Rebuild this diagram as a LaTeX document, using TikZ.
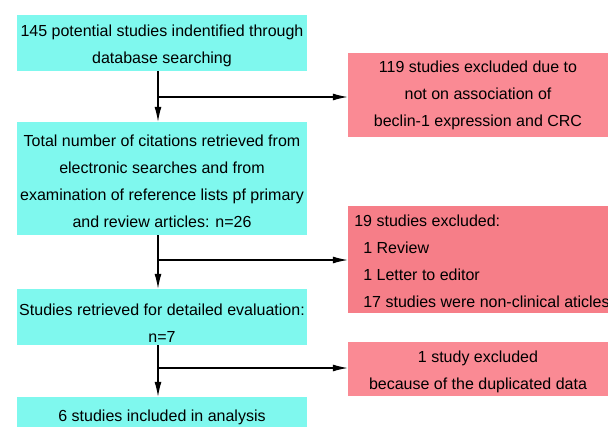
\documentclass[tikz,border=0pt]{standalone}
\usepackage{fontspec}
\setmainfont{Liberation Sans}
\usetikzlibrary{arrows.meta}
\definecolor{boxcyan}{RGB}{127,248,238}
\definecolor{boxpink}{RGB}{250,138,148}
\definecolor{boxrose}{RGB}{246,126,136}
\newcommand{\lift}[1]{\rule{0pt}{#1}}
\tikzset{
	stagebox/.style={fill=boxcyan, inner sep=0pt, minimum width=290pt, align=center, font=\fontsize{16}{27}\selectfont},
	dropbox/.style={fill=boxpink, inner sep=0pt, minimum width=260pt, align=center, font=\fontsize{16}{27}\selectfont},
	flow/.style={-{Latex[length=15pt,width=7pt]}, line width=1.2pt}
}
\begin{document}
\begin{tikzpicture}[x=1pt,y=-1pt]
	\useasboundingbox (0,0) rectangle (608,426);
	\node [stagebox, minimum height=56pt] (found) at (162,43) {\lift{18pt}145 potential studies indentified through\\database searching};
	\node [stagebox, minimum height=113pt] (cited) at (162,178.5) {\lift{18pt}Total number of citations retrieved from\\electronic searches and from\\examination of reference lists pf primary\\and review articles: n=26};
	\node [stagebox, minimum height=56pt] (eval) at (162,317) {\lift{23.5pt}Studies retrieved for detailed evaluation:\\n=7};
	\node [stagebox, minimum height=40pt] (incl) at (162,417) {6 studies included in analysis};
	\node [dropbox, minimum height=84pt] (excla) at (478,95) {119 studies excluded due to\\not on association of\\beclin-1 expression and CRC};
	\node [dropbox, fill=boxrose, minimum width=268pt, minimum height=107pt, align=left] (exclb) at (482,259.5) {\lift{15.5pt}19 studies excluded:\\\hspace{9pt}1 Review\\\hspace{9pt}1 Letter to editor\\\hspace{9pt}17 studies were non-clinical aticles};
	\node [dropbox, minimum height=54pt] (exclc) at (478,369) {\lift{16.5pt}1 study excluded\\because of the duplicated data};
	\coordinate (ba) at (158,97);
	\coordinate (bb) at (158,260);
	\coordinate (bc) at (158,368);
	\draw [flow] ([xshift=-4pt]found.south) -- ([xshift=-4pt]cited.north);
	\draw [flow] ([xshift=-4pt]cited.south) -- ([xshift=-4pt]eval.north);
	\draw [flow] ([xshift=-4pt]eval.south) -- ([xshift=-4pt]incl.north);
	\draw [flow] (ba) -- (ba -| excla.west);
	\draw [flow] (bb) -- (bb -| exclb.west);
	\draw [flow] (bc) -- (bc -| exclc.west);
\end{tikzpicture}
\end{document}
